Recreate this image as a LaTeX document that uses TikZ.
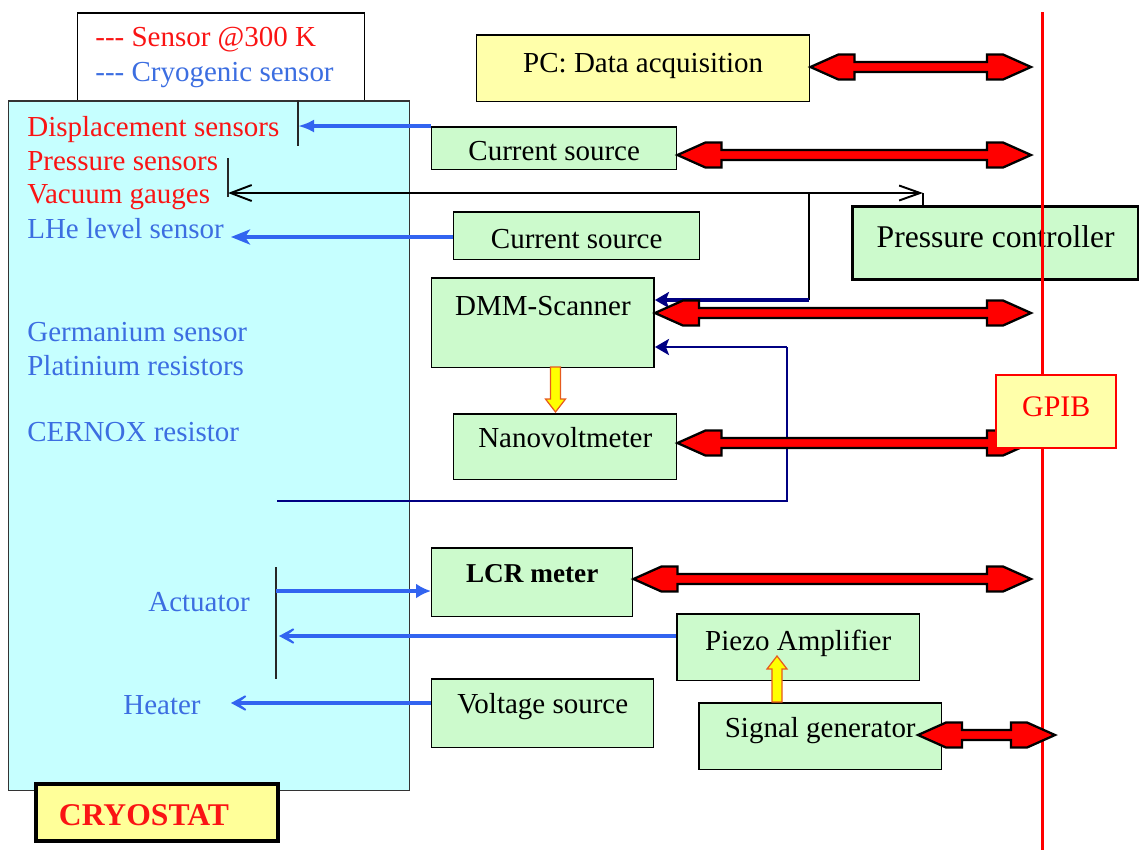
\documentclass[tikz,border=0pt]{standalone}
\usepackage{fontspec}
\setmainfont{Liberation Serif}
\usetikzlibrary{arrows.meta}

\definecolor{cryocyan}{RGB}{198,255,255}
\definecolor{devgreen}{RGB}{204,250,204}
\definecolor{pcyellow}{RGB}{255,255,170}
\definecolor{labelyellow}{RGB}{255,255,153}
\definecolor{warmred}{RGB}{250,20,20}
\definecolor{coldblue}{RGB}{60,110,225}
\definecolor{linkblue}{RGB}{50,100,240}
\definecolor{navylink}{RGB}{0,0,130}
\definecolor{busred}{RGB}{255,0,0}
\definecolor{feedyellow}{RGB}{255,255,0}
\definecolor{feedrim}{RGB}{230,90,30}

% fat red double arrow between two points at the same height (left, right)
\newcommand{\buslink}[2]{%
  \filldraw[busarrow] (#1) -- ([shift={(28,-12.5)}]#1) -- ([shift={(44,-12.5)}]#1) -- ([shift={(44,-5)}]#1)
    -- ([shift={(-44,-5)}]#2) -- ([shift={(-44,-12.5)}]#2) -- ([shift={(-28,-12.5)}]#2) -- (#2)
    -- ([shift={(-28,12.5)}]#2) -- ([shift={(-44,12.5)}]#2) -- ([shift={(-44,5)}]#2)
    -- ([shift={(44,5)}]#1) -- ([shift={(44,12.5)}]#1) -- ([shift={(28,12.5)}]#1) -- cycle;}
% yellow block arrow: start, tip, head length (signed, px)
\newcommand{\feedarrow}[3]{%
  \filldraw[feed] ([shift={(-5,0)}]#1) -- ([shift={(-5,#3)}]#2) -- ([shift={(-10,#3)}]#2) -- (#2)
    -- ([shift={(10,#3)}]#2) -- ([shift={(5,#3)}]#2) -- ([shift={(5,0)}]#1) -- cycle;}

\begin{document}
\begin{tikzpicture}[x=0.02cm, y=-0.02cm,
    txt/.style={font=\fontsize{16.5}{19}\selectfont},
    devbox/.style={draw=black, line width=0.85pt, fill=devgreen, inner sep=0pt, anchor=north west, txt},
    warm/.style={txt, text=warmred, anchor=base west, inner sep=0pt},
    cold/.style={txt, text=coldblue, anchor=base west, inner sep=0pt},
    cryolink/.style={draw=linkblue, line width=#1}, cryolink/.default=2pt,
    navy/.style={draw=navylink, line width=#1}, navy/.default=0.9pt,
    bar/.style={draw=black!85, line width=0.9pt},
    busarrow/.style={fill=busred, draw=black, line width=1.3pt, line join=miter},
    feed/.style={fill=feedyellow, draw=feedrim, line width=0.7pt}]
  \useasboundingbox (0,0) rectangle (1139,850);
  \def\busx{1042.5}

  % --- Cryostat ---
  \node[draw=black, line width=0.85pt, fill=white, anchor=north west, minimum width=5.74cm,
        minimum height=1.76cm, inner sep=0pt] (legend) at (77,12) {};
  \node[warm] (warmkey) at (95,46.7) {-{}-{}- Sensor @300 K};
  \node[cold] (coldkey) at (95,81) {-{}-{}- Cryogenic sensor};
  \node[draw=black!80, line width=0.85pt, fill=cryocyan, anchor=north west, minimum width=8.02cm,
        minimum height=13.8cm, inner sep=0pt] (cryostat) at (8,100) {};

  \node[warm] (displ) at (27,136) {Displacement sensors};
  \node[warm] (press) at (27,170) {Pressure sensors};
  \node[warm] (vacuum) at (27,203) {Vacuum gauges};
  \node[cold] (lhe) at (27,238) {LHe level sensor};
  \node[cold] (germ) at (27,341) {Germanium sensor};
  \node[cold] (plat) at (27,375) {Platinium resistors};
  \node[cold] (cernox) at (27,441) {CERNOX resistor};
  \node[cold] (actuator) at (148,611) {Actuator};
  \node[cold] (heater) at (123,714) {Heater};

  \node[draw=black, line width=2.2pt, fill=labelyellow, anchor=north west, inner ysep=0pt,
        inner xsep=0.46cm, text width=3.92cm, align=left, text height=0.84cm, text depth=0.30cm,
        font=\fontsize{18}{21}\selectfont\bfseries, text=warmred] (cryolabel) at (34,782) {CRYOSTAT};

  % --- Instruments ---
  \node[devbox, fill=pcyellow, minimum width=6.66cm, text height=0.75cm, text depth=0.59cm] (pc) at (476,34) {PC: Data acquisition};
  \node[devbox, minimum width=4.90cm, text height=0.68cm, text depth=0.18cm] (csdisp) at (431,126) {Current source};
  \node[devbox, minimum width=4.92cm, text height=0.73cm, text depth=0.23cm] (cslhe) at (453,211) {Current source};
  \node[devbox, line width=1.7pt, minimum width=5.73cm, text height=0.83cm, text depth=0.63cm,
        font=\fontsize{18}{21}\selectfont] (pctrl) at (851,205) {Pressure controller};
  \node[devbox, minimum width=4.45cm, text height=0.76cm, text depth=1.04cm] (dmm) at (431,277) {DMM-Scanner};
  \node[devbox, minimum width=4.46cm, text height=0.68cm, text depth=0.64cm] (nano) at (453,413) {Nanovoltmeter};
  \node[devbox, minimum width=4.02cm, text height=0.70cm, text depth=0.68cm,
        font=\fontsize{15.5}{18}\selectfont\bfseries] (lcr) at (431,547) {LCR meter};
  \node[devbox, minimum width=4.86cm, text height=0.74cm, text depth=0.60cm] (piezo) at (676,613) {Piezo Amplifier};
  \node[devbox, minimum width=4.44cm, text height=0.70cm, text depth=0.68cm] (vsrc) at (431,678) {Voltage source};
  \node[devbox, minimum width=4.86cm, text height=0.70cm, text depth=0.64cm] (siggen) at (698,702) {Signal generator};

  % --- Sensor lines ---
  \coordinate (dispbarT) at (298,100);
  \coordinate (dispbarB) at (298,146);
  \coordinate (dispin) at (298,126);
  \draw[bar] (dispbarT) -- (dispbarB);
  \draw[cryolink=2.2pt, -{Latex[length=0.32cm, width=0.26cm]}] (csdisp.north west) -- (dispin);

  \coordinate (pbarT) at (228,158);
  \coordinate (pbarB) at (228,197);
  \coordinate (pbar) at (228,193);
  \coordinate (ptap) at (809,193);
  \coordinate (pturn) at (923,193);
  \draw[bar] (pbarT) -- (pbarB);
  \draw[line width=1.1pt, {Straight Barb[length=0.42cm, width=0.32cm]}-{Straight Barb[length=0.42cm, width=0.3cm]}] (pbar) -- (pturn);
  \draw[line width=0.9pt] (pturn) -- (pturn |- pctrl.north);

  \coordinate (lhein) at (231,237);
  \draw[cryolink=2.8pt, -{Stealth[length=0.38cm, width=0.3cm, inset=0.1cm]}] (cslhe.west |- lhein) -- (lhein);

  % scanner inputs
  \coordinate (scanin) at (809,300);
  \draw[line width=0.9pt] (ptap) -- (scanin);
  \draw[navy=2.2pt, -{Stealth[length=0.28cm, width=0.32cm, inset=0.06cm]}] (scanin) -- (dmm.east |- scanin);
  \coordinate (cernend) at (277,501);
  \coordinate (retturn) at (787,501);
  \coordinate (retin) at (787,347);
  \draw[navy] (cernend) -- (retturn) -- (retin);
  \draw[navy=1.6pt, -{Stealth[length=0.28cm, width=0.32cm, inset=0.06cm]}] (retin) -- (dmm.east |- retin);

  % actuator and heater
  \coordinate (actbarT) at (276,567);
  \coordinate (actbarB) at (276,679);
  \coordinate (actout) at (276,591);
  \coordinate (actin) at (279,636);
  \coordinate (heatin) at (231,703);
  \draw[bar] (actbarT) -- (actbarB);
  \draw[cryolink=2.5pt, -{Latex[length=0.3cm, width=0.3cm]}] (actout) -- (lcr.west |- actout);
  \draw[cryolink=1.8pt, -{Stealth[length=0.48cm, width=0.52cm, inset=0.34cm]}] (piezo.west |- actin) -- (actin);
  \draw[cryolink=1.8pt, -{Stealth[length=0.48cm, width=0.52cm, inset=0.34cm]}] (vsrc.west |- heatin) -- (heatin);

  % --- Yellow feeds ---
  \coordinate (feedtop) at (555.5,367);
  \coordinate (feedtip) at (555.5,412);
  \feedarrow{feedtop}{feedtip}{-13}
  \coordinate (sigfeed) at (777,702);
  \coordinate (piezofeed) at (777,656);
  \feedarrow{sigfeed}{piezofeed}{13}

  % --- GPIB bus ---
  \coordinate (bustop) at (\busx,12);
  \coordinate (busbot) at (\busx,850);
  \draw[busred, line width=2pt] (bustop) -- (busbot);
  \coordinate (busPC) at (1031,67);
  \coordinate (busCS) at (1031,155);
  \coordinate (busDMM) at (1031,313);
  \coordinate (busNano) at (1031,443);
  \coordinate (busLCR) at (1031,579);
  \coordinate (sigL) at (918,735);
  \coordinate (busSig) at (1055,735);
  \buslink{pc.east |- busPC}{busPC}
  \buslink{csdisp.east |- busCS}{busCS}
  \buslink{dmm.east |- busDMM}{busDMM}
  \buslink{nano.east |- busNano}{busNano}
  \buslink{lcr.east |- busLCR}{busLCR}
  \buslink{sigL}{busSig}
  \node[draw=busred, line width=1.4pt, fill=pcyellow, text=busred, anchor=north west, inner sep=0pt,
        minimum width=2.40cm, text height=0.82cm, text depth=0.64cm,
        font=\fontsize{17}{20}\selectfont] (gpib) at (995,374) {GPIB};
\end{tikzpicture}
\end{document}
